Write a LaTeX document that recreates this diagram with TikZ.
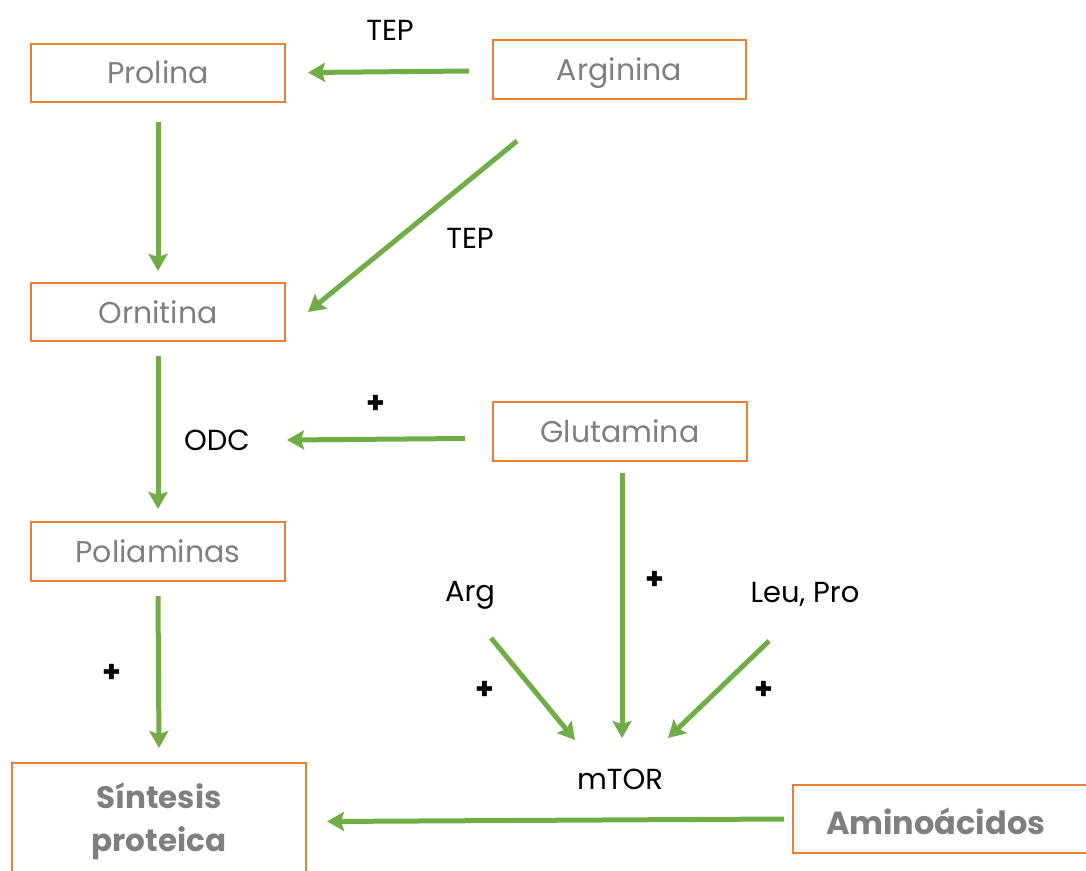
\documentclass[tikz,border=0pt]{standalone}
\usepackage{fontspec}
\setmainfont{Poppins}
\usetikzlibrary{arrows.meta}
\definecolor{grn}{HTML}{70AD47}
\definecolor{org}{HTML}{ED7D31}
\definecolor{gtxt}{HTML}{7F7F7F}
\begin{document}
\begin{tikzpicture}[x=1pt,y=-1pt,
  boxbase/.style={draw=org,line width=2pt,inner sep=0pt,text=gtxt},
  box/.style={boxbase,minimum width=254pt,minimum height=58pt,text height=22pt,text depth=0pt,font=\fontsize{30}{36}\selectfont},
  lbl/.style={text=black,font=\fontsize{29}{34}\selectfont,inner sep=0pt},
  plus/.style={text=black,font=\bfseries\fontsize{30}{34}\selectfont,inner sep=0pt},
  arr/.style={draw=grn,line width=5pt,-{Stealth[length=17pt,width=19pt,inset=3pt]}}]
\useasboundingbox (0,0) rectangle (1086,870);
\clip (0,0) rectangle (1086,870);
% boxes
\node[box] (pro) at (158,72.5) {Prolina};
\node[box,minimum width=253pt,minimum height=59pt] (arg) at (619.5,69.5) {Arginina};
\node[box] (orn) at (158,312) {Ornitina};
\node[box,minimum height=59pt] (glu) at (620,431.5) {Glutamina};
\node[box,minimum height=59pt] (pol) at (158,551.5) {Poliaminas};
\node[boxbase,anchor=north,minimum width=294pt,inner ysep=20pt,align=center,font=\bfseries\fontsize{31}{43}\selectfont] (sin) at (159,762) {Síntesis\\proteica};
\node[boxbase,draw=none,anchor=west,minimum height=66pt,inner xsep=32pt,text height=30pt,text depth=0pt,font=\bfseries\fontsize{32}{40}\selectfont] (ami) at (793,819) {\makebox[360pt][l]{Aminoácidos}};
\draw[org,line width=2pt] ([xshift=-20pt]ami.north east) -- (ami.north west) -- (ami.south west) -- ([xshift=-20pt]ami.south east);
% labels
\node[lbl] (tep1) at (390,30) {TEP};
\node[lbl] (tep2) at (470,238) {TEP};
\node[lbl] (odc) at (217,440) {ODC};
\node[lbl] (argl) at (470,595) {Arg};
\node[lbl] (leu) at (805,594) {Leu, Pro};
\node[lbl] (mtor) at (620,779) {mTOR};
\node[plus] (p1) at (376,404) {+};
\node[plus] (p2) at (655,580) {+};
\node[plus] (p3) at (485,690) {+};
\node[plus] (p4) at (764,690) {+};
\node[plus] (p5) at (112,673) {+};
% arrows
\draw[arr] ([xshift=-23pt,yshift=-1.5pt]arg.west) -- ([xshift=22pt]pro.east);
\draw[arr] ([yshift=-19pt]pro.south) -- ([yshift=11pt]orn.north);
\draw[arr] ([xshift=25pt,yshift=-41pt]arg.south west) -- ([xshift=22pt]orn.east);
\draw[arr] ([yshift=-14pt]orn.south) -- ([yshift=12pt]pol.north);
\draw[arr] ([xshift=-27pt,yshift=-7pt]glu.west) -- ([xshift=70pt]odc.center);
\draw[arr] ([yshift=-14pt]pol.south) -- ([yshift=14pt]sin.north);
\draw[arr] ([xshift=2pt,yshift=-11pt]glu.south) -- ([xshift=2pt,yshift=41pt]mtor.center);
\draw[arr] ([xshift=21pt,yshift=-43pt]argl.center) -- ([xshift=-45pt,yshift=39pt]mtor.center);
\draw[arr] ([xshift=-36pt,yshift=-47pt]leu.center) -- ([xshift=48pt,yshift=41pt]mtor.center);
\draw[arr] ([xshift=-9pt]ami.west) -- ([xshift=20pt]sin.east);
\end{tikzpicture}
\end{document}
